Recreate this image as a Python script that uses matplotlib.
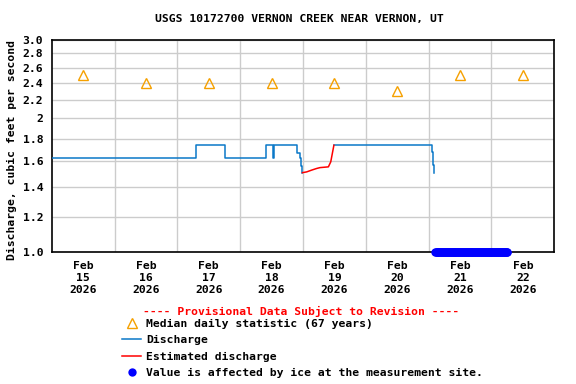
import matplotlib
matplotlib.use("Agg")
import matplotlib.pyplot as plt
import matplotlib.dates as mdates
from matplotlib.lines import Line2D
import pandas as pd
import numpy as np

FONT = "DejaVu Sans Mono"
FS = 8.2
plt.rcParams['font.family'] = FONT
plt.rcParams['font.weight'] = 'bold'

title = "USGS 10172700 VERNON CREEK NEAR VERNON, UT"
ylabel = "Discharge, cubic feet per second"
base = pd.Timestamp("2026-02-15 00:00")

# Median daily statistic (noon of each day)
median_days = ["2026-02-15", "2026-02-16", "2026-02-17", "2026-02-18",
               "2026-02-19", "2026-02-20", "2026-02-21", "2026-02-22"]
median_vals = [2.5, 2.4, 2.4, 2.4, 2.4, 2.3, 2.5, 2.5]

# Discharge (hours since Feb 15 00:00), step series
q1_hours = [0.0, 55.0, 66.3, 82.0, 84.6, 85.1, 93.8, 94.7, 95.2, 95.8]
q1_vals = [1.63, 1.74, 1.63, 1.74, 1.63, 1.74, 1.67, 1.63, 1.56, 1.51]

# Estimated discharge
est_hours = [95.8, 97.4, 99.3, 101.2, 102.5, 105.7, 106.6, 107.2, 107.8]
est_vals = [1.51, 1.516, 1.53, 1.543, 1.55, 1.556, 1.597, 1.667, 1.74]

# Discharge after estimated period
q2_hours = [107.8, 145.3, 145.7, 146.1, 146.2]
q2_vals = [1.74, 1.68, 1.575, 1.51, 1.51]

# Ice-affected period (15-minute values shown at bottom of axis)
ice_start = "2026-02-21 02:30"
ice_end = "2026-02-22 06:00"
ice_level = 1.0

yticks = [1.0, 1.2, 1.4, 1.6, 1.8, 2.0, 2.2, 2.4, 2.6, 2.8, 3.0]
yticklabels = ["1.0", "1.2", "1.4", "1.6", "1.8", "2", "2.2", "2.4", "2.6", "2.8", "3.0"]

def t(hours):
    return base + pd.to_timedelta(hours, unit="h")

fig = plt.figure(figsize=(5.76, 3.84), dpi=100)
ax = fig.add_axes([51.7/576, 1-252.3/384, (554.3-51.7)/576, (252.3-40)/384])

blue = "#0a78c8"
orange = "#f5a000"
ax.plot(t(q1_hours), q1_vals, drawstyle="steps-post", color=blue, lw=1.1, zorder=3)
ax.plot(t(q2_hours), q2_vals, drawstyle="steps-post", color=blue, lw=1.1, zorder=3)
ax.plot(t(est_hours), est_vals, color="#ff0000", lw=1.1, zorder=3)

med_t = pd.to_datetime(median_days) + pd.Timedelta(hours=12)
ax.plot(med_t, median_vals, linestyle="none", marker="^", markersize=7,
        mfc="none", mec=orange, mew=1.0, zorder=4)

ice_t = pd.date_range(ice_start, ice_end, freq="15min")
ax.plot(ice_t, [ice_level]*len(ice_t), linestyle="none", marker="o",
        markersize=6, color="#0000ff", mew=0, clip_on=False, zorder=6)

ax.set_yscale("log")
ax.set_ylim(1.0, 3.0)
ax.set_yticks(yticks)
ax.set_yticklabels(yticklabels)
ax.yaxis.set_minor_locator(matplotlib.ticker.NullLocator())

xmin = base
xmax = base + pd.Timedelta(days=8)
ax.set_xlim(xmin, xmax)
days = pd.date_range("2026-02-15", periods=8, freq="D")
ax.set_xticks(days + pd.Timedelta(hours=12))
ax.set_xticklabels([f"Feb\n{d.day}\n{d.year}" for d in days], linespacing=1.3)
ax.set_xticks(pd.date_range("2026-02-16", periods=7, freq="D"), minor=True)

ax.grid(True, which="minor", axis="x", color="#cccccc", lw=1)
ax.grid(True, which="major", axis="y", color="#cccccc", lw=1)
ax.set_axisbelow(True)
ax.tick_params(axis="both", which="both", length=0, labelsize=FS)
ax.tick_params(axis="y", pad=6)
ax.tick_params(axis="x", pad=6)
for s in ax.spines.values():
    s.set_linewidth(1.2)
    s.set_color("black")

fig.text(299/576, 1-19/384, title, ha="center", va="center", fontsize=FS, weight="bold")
fig.text(12/576, 1-150/384, ylabel, ha="center", va="center", rotation=90,
         fontsize=FS, weight="bold")
fig.text(301/576, 1-311/384, "---- Provisional Data Subject to Revision ----",
         ha="center", va="center", color="#ff0000", fontsize=FS, weight="bold")

handles = [
    Line2D([], [], linestyle="none", marker="^", markersize=7, mfc="none", mec=orange, mew=1.0),
    Line2D([], [], color=blue, lw=1.1),
    Line2D([], [], color="#ff0000", lw=1.1),
    Line2D([], [], linestyle="none", marker="o", markersize=6, color="#0000ff", mew=0),
]
labels = ["Median daily statistic (67 years)", "Discharge", "Estimated discharge",
          "Value is affected by ice at the measurement site."]
fig.legend(handles, labels, loc="upper left", bbox_to_anchor=(122/576, 1-319/384),
           frameon=False, fontsize=FS, handlelength=1.67, handletextpad=0.45,
           borderpad=0, borderaxespad=0, labelspacing=0.55)

fig.savefig("out.png", dpi=100)
